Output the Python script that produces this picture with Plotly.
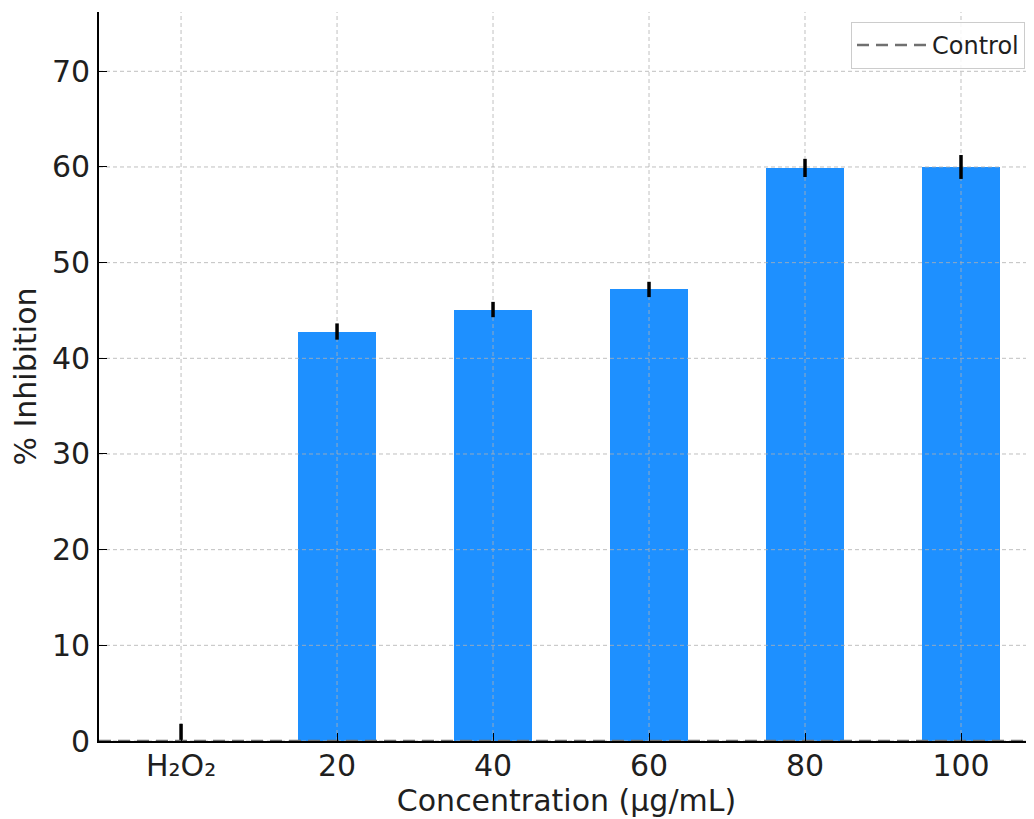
import plotly.graph_objects as go

# ---- data ----
categories = ["H₂O₂", "20", "40", "60", "80", "100"]
inhibition = [0.0, 42.8, 45.1, 47.2, 59.9, 60.0]
errors = [1.8, 0.85, 0.8, 0.8, 0.95, 1.25]
control_level = [0.0, 0.0]
y_ticks = [0, 10, 20, 30, 40, 50, 60, 70]

# ---- axis extents ----
y_max = 76.2
x_lo, x_hi = -0.526, 5.468

xs = list(range(len(categories)))
FONT = "DejaVu Sans"
TXT = "#1f1f1f"
FS = 30

fig = go.Figure()

# bars
fig.add_trace(go.Bar(
    x=xs, y=inhibition, width=0.5,
    marker=dict(color="#1E90FF", line=dict(width=0)),
    showlegend=False, hoverinfo="skip",
))

# dashed grid above bars (derived from tick positions)
gx, gy = [], []
for x in xs:
    gx += [x, x, None]
    gy += [0, y_max, None]
for t in y_ticks:
    gx += [x_lo, x_hi, None]
    gy += [t, t, None]
fig.add_trace(go.Scatter(
    x=gx, y=gy, mode="lines",
    line=dict(color="rgba(176,176,176,0.8)", width=1, dash="4px,3px"),
    hoverinfo="skip", showlegend=False,
))

# error bars
fig.add_trace(go.Scatter(
    x=xs, y=inhibition, mode="markers",
    marker=dict(size=1, color="rgba(0,0,0,0)"),
    error_y=dict(type="data", array=errors, color="black", thickness=3.5, width=0),
    hoverinfo="skip", showlegend=False,
))

# control line
fig.add_trace(go.Scatter(
    x=[x_lo, x_hi], y=control_level, mode="lines", name="Control",
    line=dict(color="#707070", width=2.5, dash="12px,7px"),
    hoverinfo="skip",
))

# page body has an 8px margin: size the figure to fill the rest of the window
W, H = 1026, 811
ML, MT, MB = 91, 4, 78

fig.update_layout(
    width=W, height=H,
    margin=dict(l=ML, r=0, t=MT, b=MB, autoexpand=False),
    plot_bgcolor="white", paper_bgcolor="white",
    font=dict(family=FONT, color=TXT, size=FS),
    bargap=0,
    legend=dict(
        x=(843 - ML) / (W - ML), y=1 - (14 - MT) / (H - MT - MB),
        xanchor="left", yanchor="top",
        bordercolor="#cccccc", borderwidth=1, bgcolor="rgba(255,255,255,0.85)",
        font=dict(size=24, family=FONT, color=TXT),
        itemwidth=70,
    ),
    xaxis=dict(
        range=[x_lo, x_hi], tickmode="array", tickvals=xs, ticktext=categories,
        showline=True, linecolor="black", linewidth=1.8,
        ticks="inside", ticklen=8, tickwidth=1.2, tickcolor="black",
        showgrid=False, zeroline=False, layer="above traces", automargin=False,
        tickfont=dict(size=FS, family=FONT, color=TXT),
        ticklabelstandoff=-3,
        title=dict(text="Concentration (µg/mL)", font=dict(size=FS, family=FONT, color=TXT), standoff=5),
    ),
    yaxis=dict(
        range=[0, y_max], tickmode="array", tickvals=y_ticks,
        showline=True, linecolor="black", linewidth=1.8,
        ticks="inside", ticklen=8, tickwidth=1.2, tickcolor="black",
        showgrid=False, zeroline=False, layer="above traces", automargin=False,
        tickfont=dict(size=FS, family=FONT, color=TXT),
        ticklabelstandoff=1,
        title=dict(text="% Inhibition", font=dict(size=FS, family=FONT, color=TXT), standoff=7),
    ),
)

fig.write_html("out.html")
